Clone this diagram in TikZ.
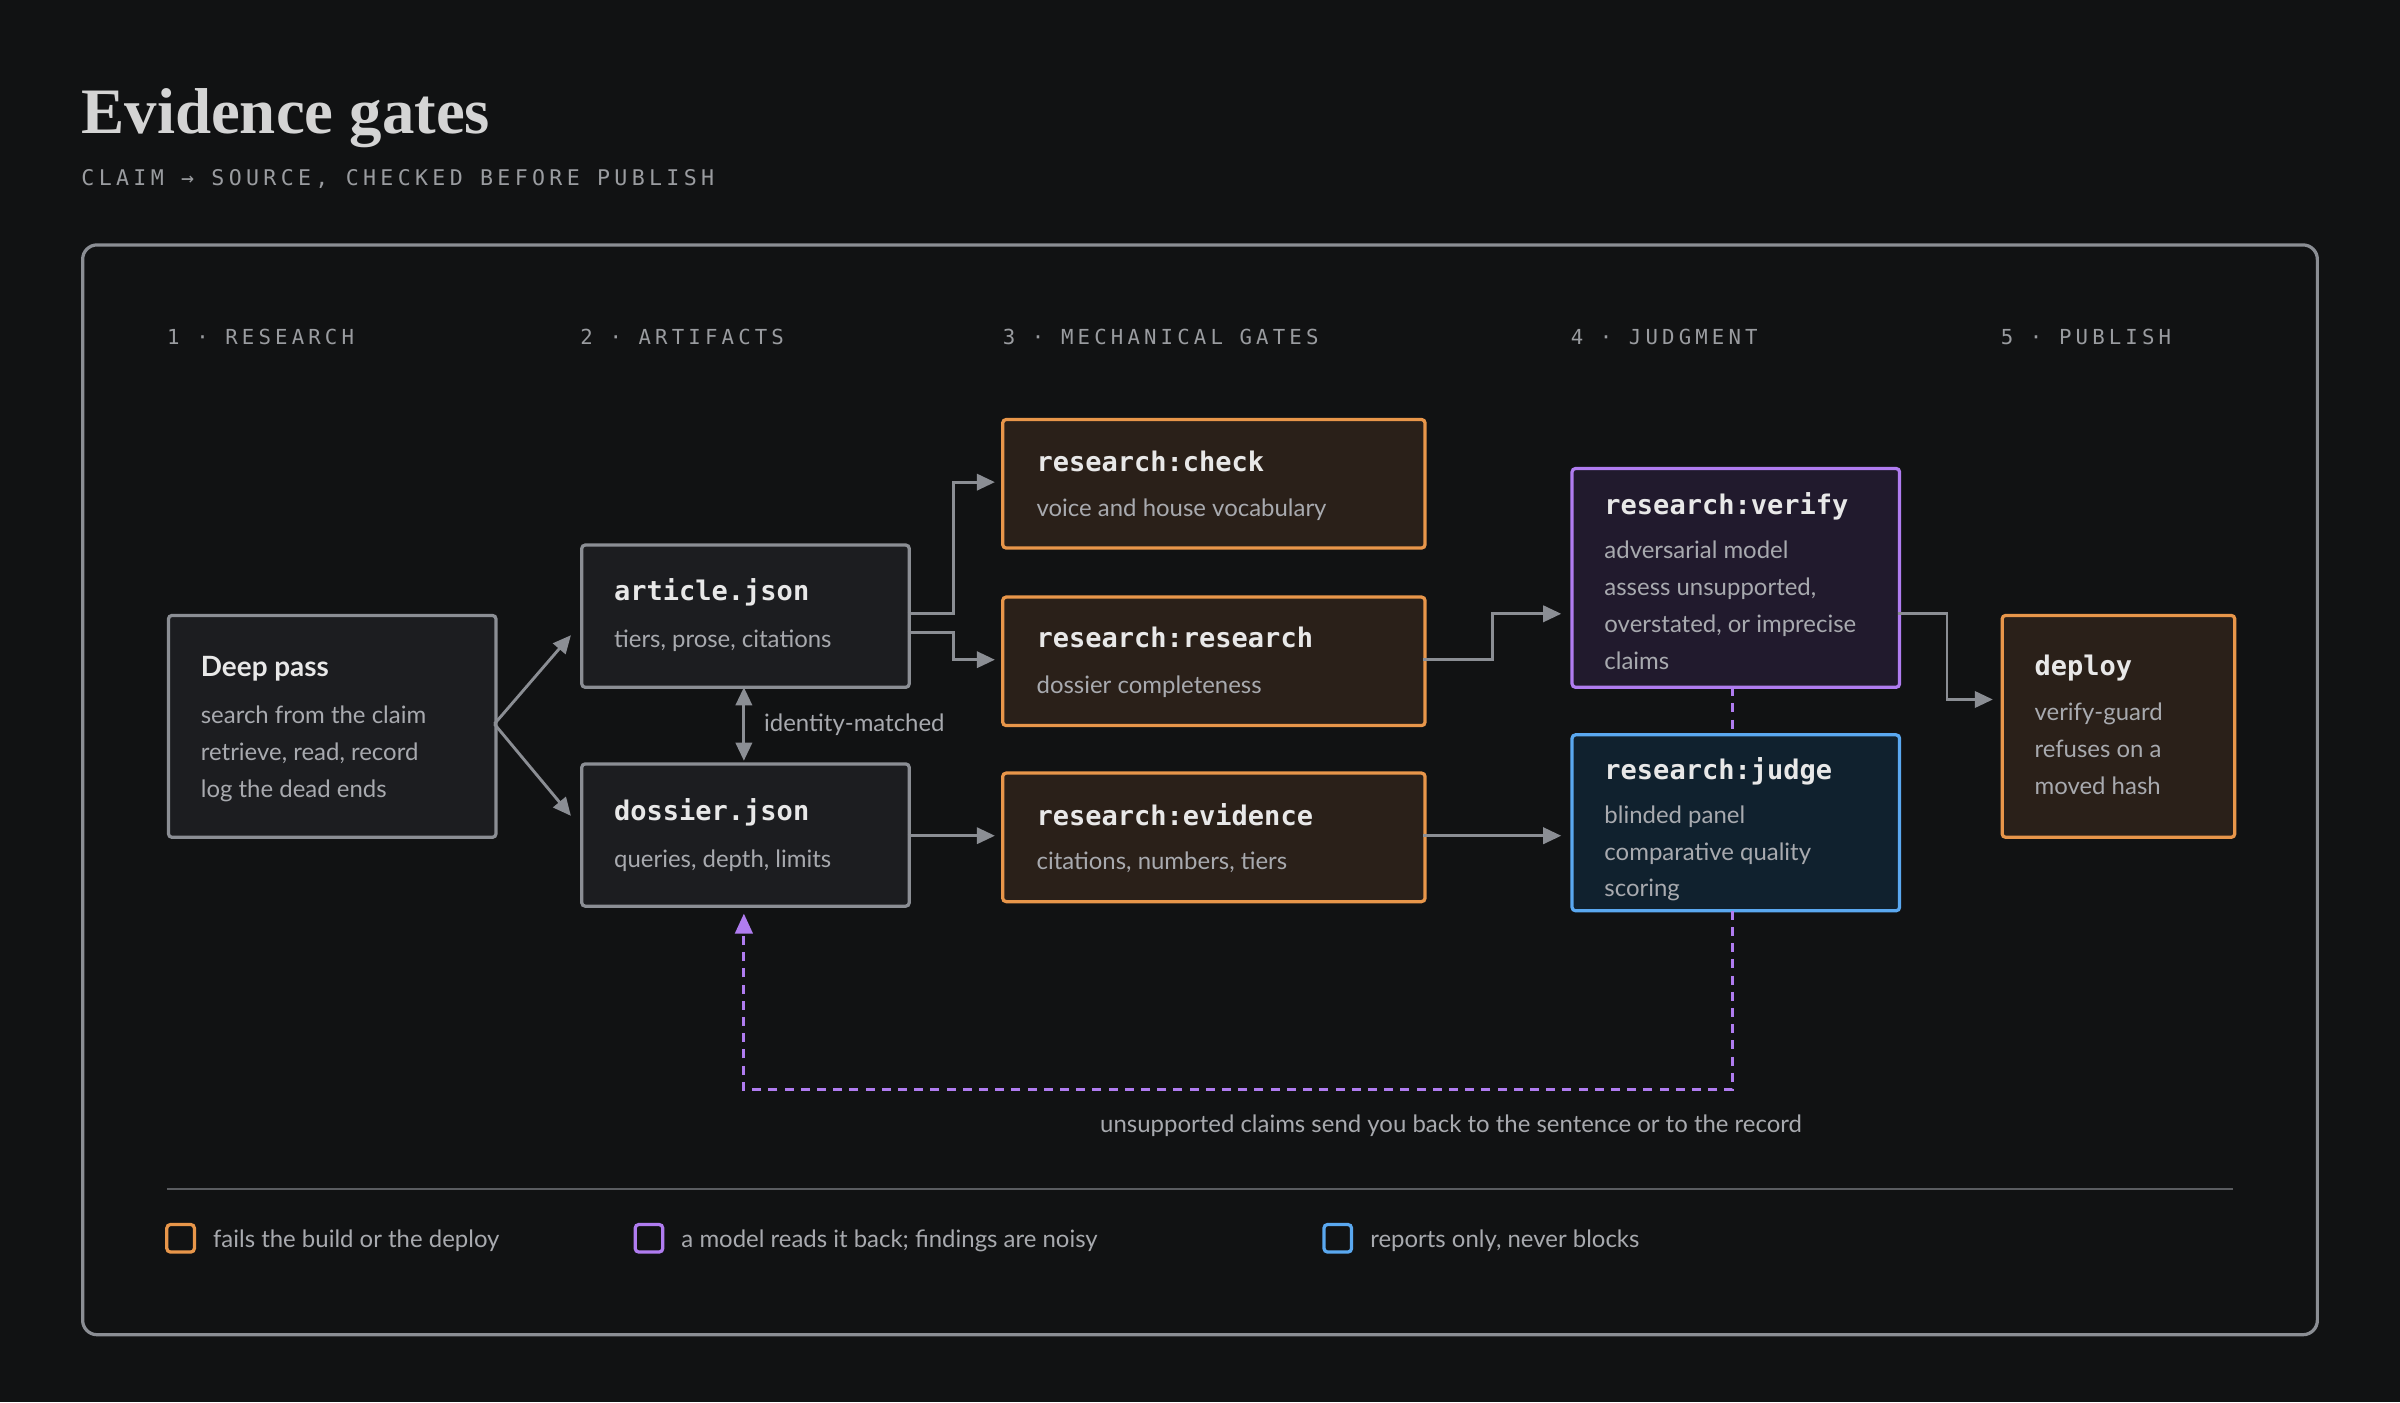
\documentclass[tikz,border=0pt]{standalone}
\usepackage{fontspec}
\setmainfont{Lato}
\newfontfamily\ttf{DejaVu Sans Mono}
\newfontfamily\ttsp[LetterSpace=20]{DejaVu Sans Mono}
\newfontfamily\serf{Liberation Serif}
\usetikzlibrary{arrows.meta}
\definecolor{bg}{HTML}{111213}
\definecolor{gr}{HTML}{8B8E94}
\definecolor{tx}{HTML}{E8E8E8}
\definecolor{ttx}{HTML}{D4D4D4}
\definecolor{bd}{HTML}{A8AAAF}
\definecolor{hd}{HTML}{9A9CA0}
\definecolor{org}{HTML}{E8964A}
\definecolor{orgf}{HTML}{2A2019}
\definecolor{pur}{HTML}{B07CF0}
\definecolor{purf}{HTML}{211A2D}
\definecolor{blu}{HTML}{5AA8F0}
\definecolor{bluf}{HTML}{10212E}
\definecolor{neuf}{HTML}{1C1D20}
\begin{document}
\begin{tikzpicture}[x=0.85pt,y=-0.85pt,
  box/.style={draw, line width=1.8pt, rounded corners=2pt, anchor=north west, inner sep=0pt},
  neu/.style={box, draw=gr, fill=neuf},
  og/.style={box, draw=org, fill=orgf},
  pu/.style={box, draw=pur, fill=purf},
  bl/.style={box, draw=blu, fill=bluf},
  ttl/.style={anchor=base west, text=tx, font=\ttf\bfseries\fontsize{15}{18}\selectfont, inner sep=0pt},
  sttl/.style={anchor=base west, text=tx, font=\bfseries\fontsize{15.5}{18}\selectfont, inner sep=0pt},
  body/.style={anchor=north west, text=bd, align=left, font=\fontsize{13.3}{20.5}\selectfont, inner sep=0pt},
  hdr/.style={anchor=base west, text=hd, font=\ttsp\fontsize{11.5}{14}\selectfont, inner sep=0pt},
  con/.style={draw=gr, line width=1.6pt, -{Triangle[length=10pt,width=9pt]}},
  dsh/.style={draw=pur, line width=1.6pt, dash pattern=on 5pt off 4pt}
]
\fill[bg] (0,0) rectangle (1568,916);
\useasboundingbox (0,0) rectangle (1568,916);
\node[anchor=base west, text=ttx, font=\serf\bfseries\fontsize{36}{40}\selectfont, inner sep=0pt] (title) at (53,87) {Evidence gates};
\node[anchor=base west, text=hd, font=\ttsp\fontsize{12}{14}\selectfont, inner sep=0pt] (sub) at (53,121) {CLAIM → SOURCE, CHECKED BEFORE PUBLISH};
\draw[gr, line width=1.8pt, rounded corners=8pt] (54,160) rectangle (1514,872);
\node[hdr] (h1) at (109,225) {1 · RESEARCH};
\node[hdr] (h2) at (379,225) {2 · ARTIFACTS};
\node[hdr] (h3) at (655,225) {3 · MECHANICAL GATES};
\node[hdr] (h4) at (1026,225) {4 · JUDGMENT};
\node[hdr] (h5) at (1307,225) {5 · PUBLISH};

% boxes
\node[neu, minimum width=214*0.85pt, minimum height=145*0.85pt] (deep) at (109,401) {};
\node[sttl] (deept) at (131,442) {Deep pass};
\node[body] (deepb) at (131,461) {search from the claim\\retrieve, read, record\\log the dead ends};

\node[neu, minimum width=214*0.85pt, minimum height=93*0.85pt] (art) at (379,355) {};
\node[ttl] (artt) at (401,392) {article.json};
\node[body] (artb) at (401,411) {tiers, prose, citations};

\node[neu, minimum width=214*0.85pt, minimum height=93*0.85pt] (dos) at (379,498) {};
\node[ttl] (dost) at (401,536) {dossier.json};
\node[body] (dosb) at (401,555) {queries, depth, limits};

\node[og, minimum width=276*0.85pt, minimum height=84*0.85pt] (chk) at (654,273) {};
\node[ttl] (chkt) at (677,308) {research:check};
\node[body] (chkb) at (677,326) {voice and house vocabulary};

\node[og, minimum width=276*0.85pt, minimum height=84*0.85pt] (res) at (654,389) {};
\node[ttl] (rest) at (677,423) {research:research};
\node[body] (resb) at (677,441) {dossier completeness};

\node[og, minimum width=276*0.85pt, minimum height=84*0.85pt] (evi) at (654,504) {};
\node[ttl] (evit) at (677,539) {research:evidence};
\node[body] (evib) at (677,556) {citations, numbers, tiers};

\node[pu, minimum width=214*0.85pt, minimum height=143*0.85pt] (ver) at (1026,305) {};
\node[ttl] (vert) at (1048,336) {research:verify};
\node[body] (verb) at (1048,353) {adversarial model\\assess unsupported,\\overstated, or imprecise\\claims};

\node[bl, minimum width=214*0.85pt, minimum height=115*0.85pt] (jud) at (1026,479) {};
\node[ttl] (judt) at (1048,509) {research:judge};
\node[body] (judb) at (1048,526) {blinded panel\\comparative quality\\scoring};

\node[og, minimum width=152*0.85pt, minimum height=145*0.85pt] (dep) at (1307,401) {};
\node[ttl] (dept) at (1329,441) {deploy};
\node[body] (depb) at (1329,459) {verify-guard\\refuses on a\\moved hash};

% connectors
\coordinate (dp) at (323,473);
\draw[con] (dp) -- (373,415);
\draw[con] (dp) -- (373,533);
\draw[con] (593,401) -- (623,401) -- (623,315) -- (650,315);
\draw[con] (593,413) -- (623,413) -- (623,431) -- (650,431);
\draw[con] (593,546) -- (650,546);
\draw[draw=gr, line width=1.6pt, {Triangle[length=10pt,width=9pt]}-{Triangle[length=10pt,width=9pt]}] (486,449) -- (486,497);
\node[anchor=base west, text=bd, font=\fontsize{13.3}{16}\selectfont, inner sep=0pt] (idm) at (499,478) {identity-matched};
\draw[con] (930,431) -- (975,431) -- (975,401) -- (1020,401);
\draw[con] (930,546) -- (1020,546);
\draw[con] (1240,401) -- (1272,401) -- (1272,457) -- (1302,457);
\draw[dsh] (1132,449) -- (1132,478);
\draw[dsh] (1132,595) -- (1132,712) -- (486,712) -- (486,610);
\fill[pur] (486,597) -- (480,610) -- (492,610) -- cycle;
\node[anchor=base, text=bd, font=\fontsize{13.3}{16}\selectfont, inner sep=0pt] (uns) at (948,740) {unsupported claims send you back to the sentence or to the record};

\draw[draw=gr!60!bg, line width=1.2pt] (109,777) -- (1459,777);
\draw[org, line width=1.8pt, rounded corners=2pt] (109,800) rectangle (127,818);
\node[anchor=base west, text=bd, font=\fontsize{13.3}{16}\selectfont, inner sep=0pt] (l1) at (139,815) {fails the build or the deploy};
\draw[pur, line width=1.8pt, rounded corners=2pt] (415,800) rectangle (433,818);
\node[anchor=base west, text=bd, font=\fontsize{13.3}{16}\selectfont, inner sep=0pt] (l2) at (445,815) {a model reads it back; findings are noisy};
\draw[blu, line width=1.8pt, rounded corners=2pt] (865,800) rectangle (883,818);
\node[anchor=base west, text=bd, font=\fontsize{13.3}{16}\selectfont, inner sep=0pt] (l3) at (895,815) {reports only, never blocks};
\end{tikzpicture}
\end{document}
